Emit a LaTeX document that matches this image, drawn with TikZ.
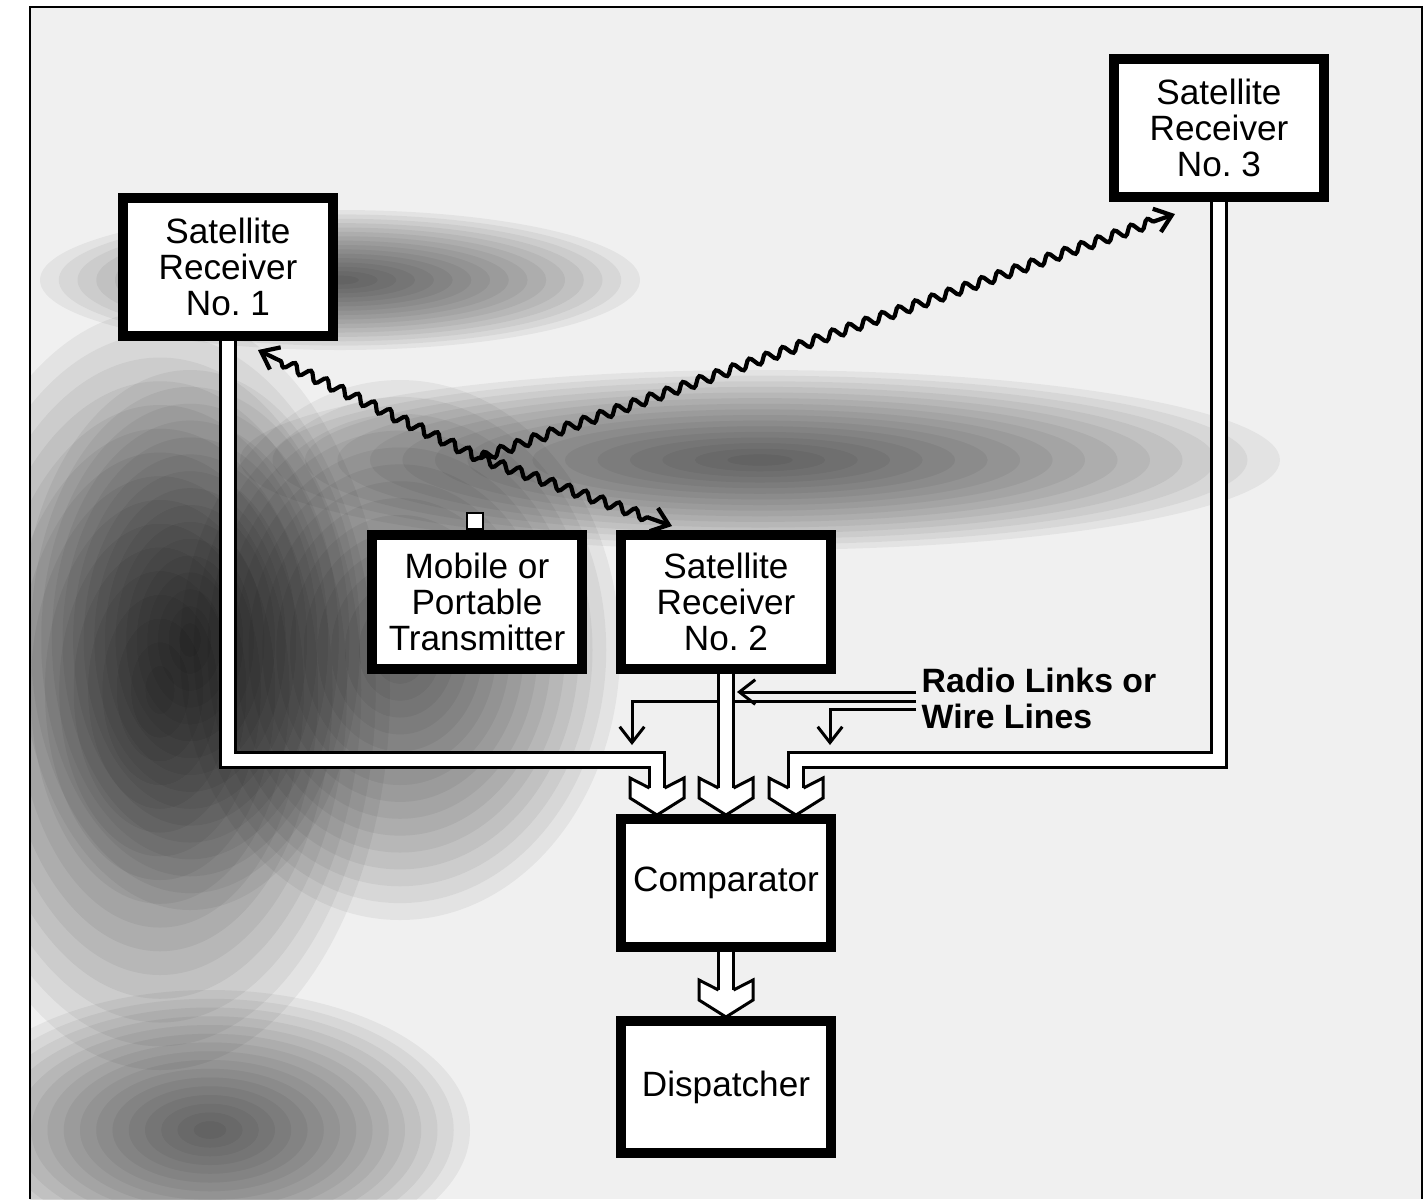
\documentclass[tikz,border=0pt]{standalone}
\usepackage{fontspec}
\setmainfont{Liberation Sans}
\frenchspacing
\usetikzlibrary{arrows.meta}
\usetikzlibrary{decorations.pathmorphing}
\tikzset{>={Straight Barb[length=4.5pt,width=7pt]}}
\tikzset{box/.style = {draw, line width=2.85pt, fill=white, minimum width=2.09cm, align=center, inner sep=1pt, font=\fontsize{10}{10.2}\selectfont}}
\tikzset{pipe/.style = {line width=0.85pt, double=white, double distance=3.4pt, line join=miter}}
\tikzset{wire/.style = {->, line width=0.85pt}}
\tikzset{wave/.style = {->, line width=1.2pt, decorate, decoration={snake, amplitude=1.3pt, segment length=5pt, post length=5pt}}}
\tikzset{head/.pic = {
  \fill[white] (-7.5,0) -- (-27,-10) -- (-27,10) -- (0,27) -- (27,10) -- (27,-10) -- (7.5,0) -- cycle;
  \draw[line width=0.85pt, line join=miter] (-7.5,0) -- (-27,-10) -- (-27,10) -- (0,27) -- (27,10) -- (27,-10) -- (7.5,0);
}}
\newcommand{\cloudblob}[4]{\foreach \k in {1,...,16} {\fill[black, fill opacity=0.05] (#1,#2) ellipse ({#3*\k/16} and {#4*\k/16});}}

\begin{document}
\begin{tikzpicture}[x=0.01cm, y=-0.01cm]
    \useasboundingbox (0,0) rectangle (1427,1199);
    \fill[black!6] (30,7) rectangle (1422,1199);
    % dark cloud
    \begin{scope}
        \clip (30,7) rectangle (1422,1199);
        \cloudblob{160}{690}{230}{380}
        \cloudblob{190}{640}{170}{270}
        \cloudblob{400}{650}{220}{270}
        \cloudblob{760}{460}{520}{90}
        \cloudblob{210}{1130}{260}{140}
        \cloudblob{340}{280}{300}{70}
    \end{scope}
    \draw[line width=0.6pt] (30,1199) -- (30,7) -- (1422,7) -- (1422,1199);

    \node[box, minimum height=1.375cm] (r1) at (228,267) {Satellite\\Receiver\\No. 1};
    \node[box, minimum height=1.38cm] (r3) at (1219,128) {Satellite\\Receiver\\No. 3};
    \node[box, minimum height=1.33cm] (tx) at (477,602) {Mobile or\\Portable\\Transmitter};
    \node[box, minimum height=1.33cm] (r2) at (726,602) {Satellite\\Receiver\\No. 2};
    \node[box, minimum height=1.27cm] (comp) at (726,883) {Comparator};
    \node[box, minimum height=1.31cm] (disp) at (726,1087) {Dispatcher};
    \node[draw, fill=white, minimum size=0.16cm, inner sep=0, line width=0.6pt] (ant) at (475,521) {};
    \node[anchor=north west, inner sep=0, align=left, font=\bfseries\fontsize{9.6}{10.2}\selectfont] (lbl) at (921,667) {Radio Links or\\Wire Lines};

    \coordinate (src) at (480,458);
    \coordinate (t1) at (258,350);
    \coordinate (t2) at (672,526);
    \coordinate (t3) at (1175,214);
    \draw[wave] (src) -- (t1);
    \draw[wave] (src) -- (t2);
    \draw[wave] (src) -- (t3);

    \coordinate (w1) at (916,692);
    \coordinate (w2) at (916,701);
    \coordinate (w3) at (916,709);
    \coordinate (tap) at (737,692);
    \coordinate (d1) at (632,745);
    \coordinate (d2) at (830,745);
    \draw[wire] (w1) -- (tap);
    \draw[wire] (w2) -| (d1);
    \draw[wire] (w3) -| (d2);

    \coordinate (bus) at (0,760);
    \coordinate (in1) at (657,788);
    \coordinate (in2) at (726,788);
    \coordinate (in3) at (796,788);
    \coordinate (in4) at (726,990);
    \draw[pipe] (r1.south) |- (bus -| in1) -- (in1);
    \draw[pipe] (r2.south) -- (in2);
    \draw[pipe] (r3.south) |- (bus -| in3) -- (in3);
    \draw[pipe] (comp.south) -- (in4);
    \pic at (in1) {head};
    \pic at (in2) {head};
    \pic at (in3) {head};
    \pic at (in4) {head};
\end{tikzpicture}
\end{document}
